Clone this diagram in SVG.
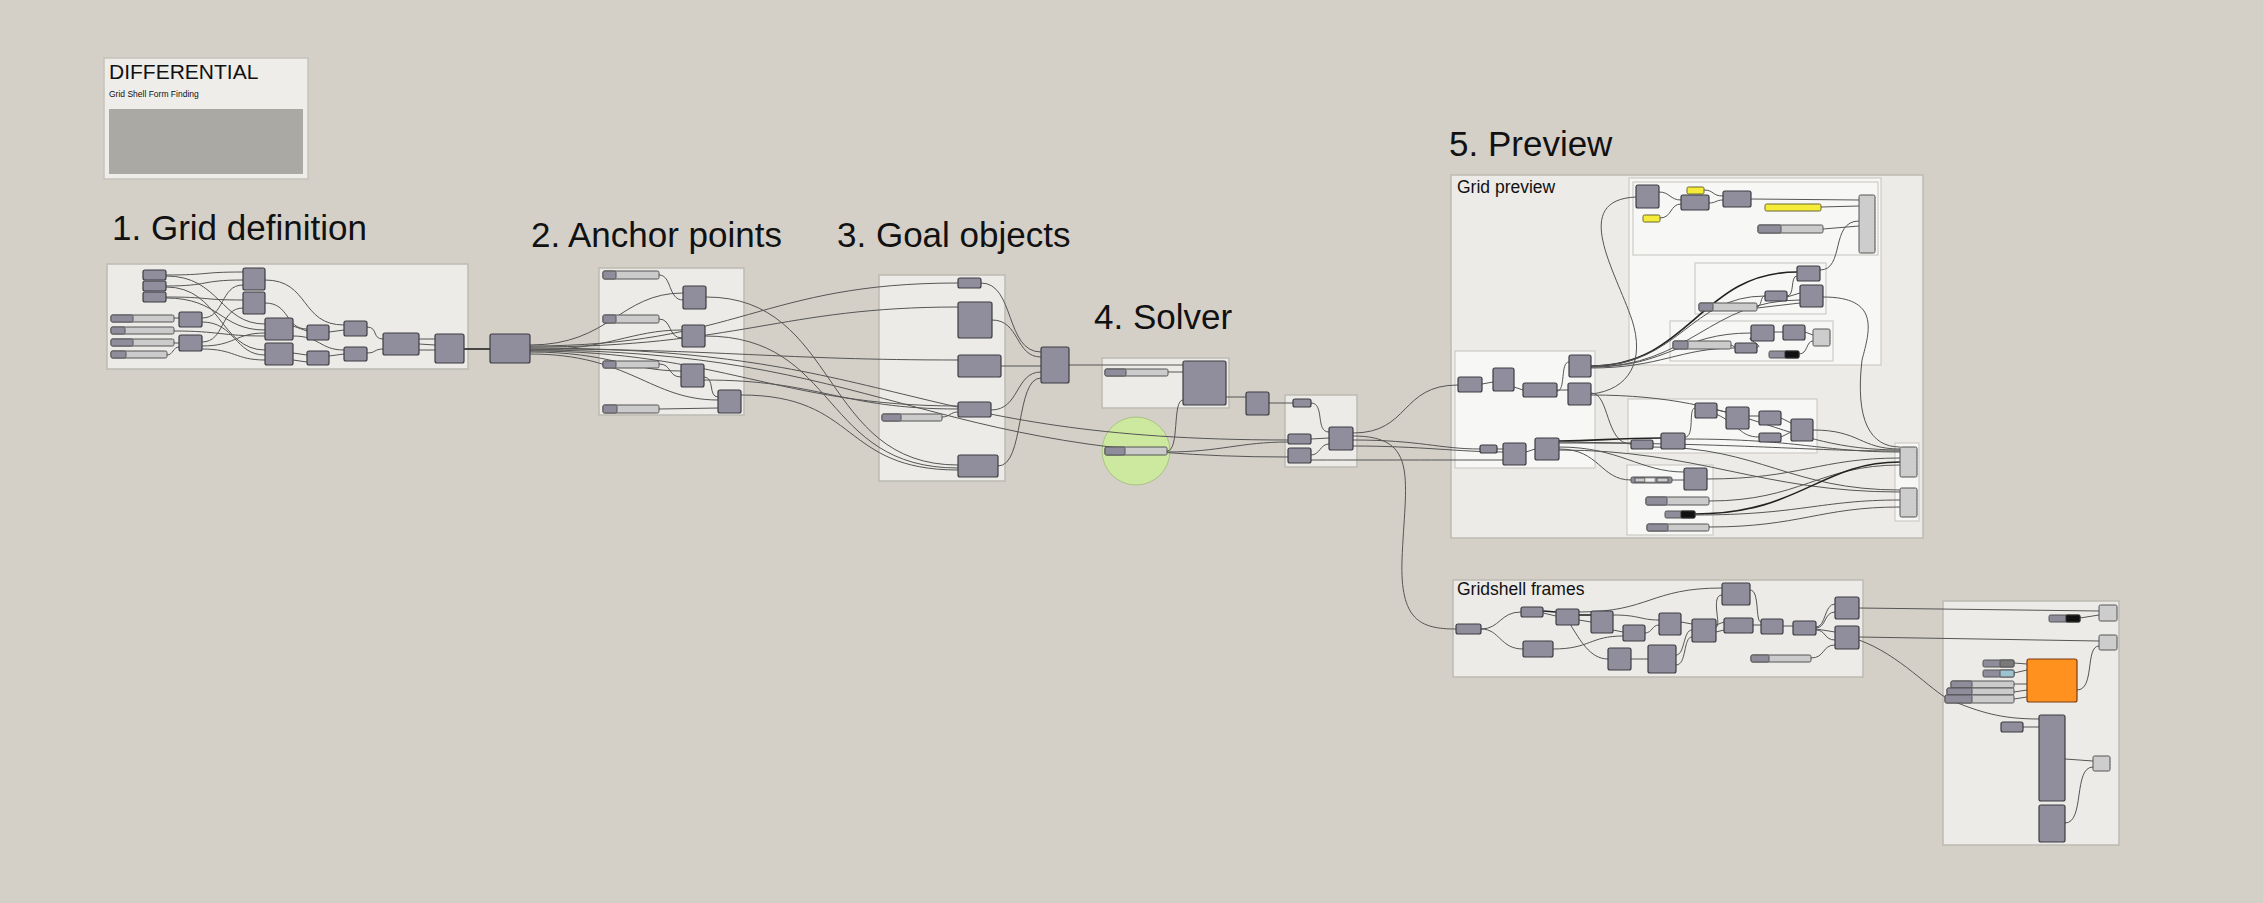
<svg xmlns="http://www.w3.org/2000/svg" width="2263" height="903" viewBox="0 0 2263 903">
<style>
.bg{fill:#d4d0c8}
.grp{fill:#ecebe7;stroke:#bdbab3;stroke-width:1.5}
.sub{fill:#f7f7f5;stroke:#cdcbc6;stroke-width:1.2}
.n{fill:#908e9c;stroke:#3c3c42;stroke-width:1.2}
.sl{fill:#cbcbcb;stroke:#555;stroke-width:1}
.sd{fill:#8f8d9b;stroke:#555;stroke-width:1}
.o{fill:#cdcdcd;stroke:#555;stroke-width:1}
.od{fill:none;stroke:#888;stroke-width:1;stroke-dasharray:1.5 1.5}
.y{fill:#f5ec3a;stroke:#6b6630;stroke-width:1}
.blk{fill:#111;stroke:#333;stroke-width:1}
.w{fill:none;stroke:#555;stroke-width:1}
.wd{fill:none;stroke:#222;stroke-width:1.6}
.h{font-family:'Liberation Sans',Arial,sans-serif;fill:#111}
</style>
<rect class="bg" x="0" y="0" width="2263" height="903"/>

<g id="title">
<rect x="104" y="58" width="204" height="121" fill="#eeede9" stroke="#c5c2bb" stroke-width="1.5"/>
<text class="h" x="109" y="79" font-size="21">DIFFERENTIAL</text>
<text class="h" x="109" y="97" font-size="8.5">Grid Shell Form Finding</text>
<rect x="109" y="109" width="194" height="65" fill="#aaa9a4"/>
</g>

<g id="headings">
<text class="h" x="112" y="240" font-size="35">1. Grid definition</text>
<text class="h" x="531" y="247" font-size="35">2. Anchor points</text>
<text class="h" x="837" y="247" font-size="35">3. Goal objects</text>
<text class="h" x="1094" y="329" font-size="35">4. Solver</text>
<text class="h" x="1449" y="156" font-size="35">5. Preview</text>
</g>

<g id="groups">
<rect class="grp" x="107" y="264" width="361" height="105"/>
<rect class="grp" x="599" y="268" width="145" height="147"/>
<rect class="grp" x="879" y="275" width="126" height="206"/>
<rect class="grp" x="1102" y="358" width="127" height="50"/>
<circle cx="1136" cy="451" r="34" fill="#cde99f" stroke="#a9c383" stroke-width="1"/>
<rect class="grp" x="1285" y="395" width="72" height="72"/>
<rect class="grp" x="1451" y="175" width="472" height="363"/>
<text class="h" x="1457" y="193" font-size="17.5">Grid preview</text>
<rect class="sub" x="1629" y="178" width="252" height="187"/>
<rect class="sub" x="1633" y="182" width="245" height="73"/>
<rect class="sub" x="1695" y="263" width="131" height="51"/>
<rect class="sub" x="1670" y="321" width="163" height="40"/>
<rect class="sub" x="1455" y="351" width="140" height="117"/>
<rect class="sub" x="1628" y="399" width="189" height="54"/>
<rect class="sub" x="1627" y="465" width="86" height="70"/>
<rect class="sub" x="1895" y="443" width="24" height="78"/>
<rect class="grp" x="1453" y="580" width="410" height="97"/>
<text class="h" x="1457" y="595" font-size="17.5">Gridshell frames</text>
<rect class="grp" x="1943" y="601" width="176" height="244"/>
</g>

<g id="connectors">
<!-- group 1 -->
<path class="w" d="M166,275 C210,275 200,272 243,272"/>
<path class="w" d="M166,276 C220,276 220,324 265,324"/>
<path class="w" d="M166,286 C210,286 200,280 243,280"/>
<path class="w" d="M166,287 C220,287 220,350 265,350"/>
<path class="w" d="M166,297 C210,297 200,300 243,300"/>
<path class="w" d="M166,298 C220,298 220,330 265,330"/>
<path class="w" d="M174,318 L179,318"/>
<path class="w" d="M174,331 C220,331 220,336 265,336"/>
<path class="w" d="M174,343 L179,343"/>
<path class="w" d="M167,355 C173,355 173,347 179,347"/>
<path class="w" d="M202,318 C225,318 220,285 243,285"/>
<path class="w" d="M202,322 C235,322 235,355 265,355"/>
<path class="w" d="M202,342 C225,342 220,308 243,308"/>
<path class="w" d="M202,346 C235,346 235,333 265,333"/>
<path class="w" d="M202,349 C235,349 235,360 265,360"/>
<path class="w" d="M265,280 C310,280 300,325 344,325"/>
<path class="w" d="M265,303 C290,303 285,329 307,329"/>
<path class="w" d="M293,326 L307,331"/>
<path class="w" d="M293,336 C320,336 320,350 344,350"/>
<path class="w" d="M293,353 L307,355"/>
<path class="w" d="M293,360 L307,362"/>
<path class="w" d="M329,332 L344,330"/>
<path class="w" d="M329,356 L344,354"/>
<path class="w" d="M367,327 C378,327 372,339 383,339"/>
<path class="w" d="M367,353 C376,353 374,349 383,349"/>
<path class="w" d="M419,339 L435,339"/>
<path class="w" d="M419,344 L435,345"/>
<path class="w" d="M419,350 L435,350"/>
<path class="wd" d="M464,349 L490,349"/>
<!-- fan out from N8 -->
<path class="w" d="M530,345 C610,345 620,293 683,293"/>
<path class="w" d="M530,350 C610,350 630,330 682,330"/>
<path class="w" d="M530,352 C610,352 630,371 681,371"/>
<path class="w" d="M530,354 C630,354 650,400 718,400"/>
<path class="w" d="M530,346 C740,346 760,283 958,283"/>
<path class="w" d="M530,347 C740,347 780,307 958,307"/>
<path class="w" d="M530,349 C720,349 780,360 958,360"/>
<path class="w" d="M530,351 C720,351 780,406 958,406"/>
<path class="w" d="M530,348 C900,348 900,440 1288,440"/>
<path class="w" d="M530,350 C880,350 920,457 1288,457"/>
<!-- group 2 -->
<path class="w" d="M659,275 C672,275 668,300 683,300"/>
<path class="w" d="M659,319 C672,319 668,338 682,338"/>
<path class="w" d="M659,364 C672,364 668,377 681,377"/>
<path class="w" d="M659,409 L718,408"/>
<path class="w" d="M704,377 C715,377 708,397 718,397"/>
<path class="w" d="M706,297 C840,297 820,465 958,465"/>
<path class="w" d="M705,336 C840,336 820,468 958,468"/>
<path class="w" d="M704,380 C820,380 840,409 958,409"/>
<path class="w" d="M741,395 C860,395 840,470 958,470"/>
<!-- group 3 -->
<path class="w" d="M942,417 C950,417 950,412 958,412"/>
<path class="w" d="M981,283 C1015,283 1005,352 1041,352"/>
<path class="w" d="M992,320 C1020,320 1015,357 1041,357"/>
<path class="w" d="M1001,366 L1041,366"/>
<path class="w" d="M991,410 C1020,410 1015,372 1041,372"/>
<path class="w" d="M998,466 C1025,466 1015,378 1041,378"/>
<!-- solver -->
<path class="w" d="M1069,365 L1183,365"/>
<path class="w" d="M1168,372 L1183,372"/>
<path class="w" d="M1167,451 C1180,451 1172,400 1183,400"/>
<path class="w" d="M1167,452 C1220,452 1240,442 1288,442"/>
<path class="w" d="M1226,397 L1246,397"/>
<path class="w" d="M1269,403 L1293,403"/>
<path class="w" d="M1311,403 C1325,403 1315,432 1329,432"/>
<path class="w" d="M1311,439 L1329,438"/>
<path class="w" d="M1311,455 C1320,455 1320,444 1329,444"/>
<!-- solver to preview -->
<path class="w" d="M1353,433 C1410,433 1400,385 1458,385"/>
<path class="w" d="M1353,436 C1420,436 1405,480 1402,560 C1400,620 1420,629 1456,629"/>
<path class="w" d="M1353,440 C1420,440 1440,449 1480,449"/>
<path class="w" d="M1353,446 C1420,446 1460,452 1503,452"/>
<path class="w" d="M1311,460 C1400,460 1450,460 1503,460"/>
<!-- preview B -->
<path class="w" d="M1482,384 L1493,382"/>
<path class="w" d="M1514,387 L1523,390"/>
<path class="w" d="M1557,390 L1568,390"/>
<path class="w" d="M1557,391 C1566,391 1560,362 1569,362"/>
<path class="w" d="M1497,449 L1503,449"/>
<path class="w" d="M1526,452 L1535,449"/>
<path class="wd" d="M1591,366 C1690,366 1700,272 1797,272"/>
<path class="w" d="M1591,366 C1680,366 1690,296 1765,296"/>
<path class="w" d="M1591,367 C1690,367 1710,300 1800,300"/>
<path class="w" d="M1591,367 C1670,367 1680,333 1751,333"/>
<path class="w" d="M1591,368 C1660,368 1680,348 1735,348"/>
<path class="w" d="M1591,394 C1630,390 1645,360 1632,320 C1615,270 1570,200 1636,197"/>
<path class="w" d="M1591,393 C1610,393 1605,444 1631,444"/>
<path class="w" d="M1591,395 C1750,395 1780,450 1900,450"/>
<path class="wd" d="M1559,441 C1600,441 1610,438 1661,438"/>
<path class="w" d="M1559,442 L1631,443"/>
<path class="w" d="M1559,443 C1750,443 1800,451 1900,451"/>
<path class="w" d="M1559,447 C1620,447 1640,472 1684,472"/>
<path class="w" d="M1559,449 C1600,449 1600,480 1631,480"/>
<path class="w" d="M1559,450 C1700,450 1760,492 1900,492"/>
<!-- preview C -->
<path class="w" d="M1653,447 C1760,447 1790,490 1900,490"/>
<path class="w" d="M1685,437 C1695,437 1688,408 1695,408"/>
<path class="w" d="M1685,439 C1800,439 1820,452 1900,452"/>
<path class="w" d="M1717,410 L1726,412"/>
<path class="w" d="M1716,414 C1740,425 1740,437 1759,437"/>
<path class="w" d="M1749,416 L1759,416"/>
<path class="w" d="M1781,418 L1791,423"/>
<path class="w" d="M1781,437 L1791,432"/>
<path class="w" d="M1813,430 C1860,430 1860,449 1900,449"/>
<!-- preview D -->
<path class="w" d="M1672,480 L1684,480"/>
<path class="w" d="M1707,479 C1800,479 1820,458 1900,458"/>
<path class="w" d="M1709,501 C1800,501 1820,465 1900,465"/>
<path class="wd" d="M1695,514 C1800,514 1820,462 1900,462"/>
<path class="w" d="M1695,515 C1800,515 1820,500 1900,500"/>
<path class="w" d="M1709,527 C1800,527 1820,507 1900,507"/>
<!-- preview A -->
<path class="w" d="M1659,192 C1670,192 1670,200 1681,200"/>
<path class="w" d="M1660,218 C1672,218 1670,204 1681,204"/>
<path class="w" d="M1704,190 C1714,190 1712,196 1723,196"/>
<path class="w" d="M1709,203 C1716,203 1716,200 1723,200"/>
<path class="w" d="M1751,199 L1859,200"/>
<path class="w" d="M1821,207 L1859,206"/>
<path class="w" d="M1823,229 L1859,226"/>
<path class="w" d="M1820,270 C1845,270 1830,221 1859,221"/>
<path class="w" d="M1787,296 C1795,296 1790,276 1797,276"/>
<path class="w" d="M1787,297 L1800,293"/>
<path class="w" d="M1757,307 C1762,307 1760,296 1765,296"/>
<path class="w" d="M1757,308 L1800,303"/>
<path class="w" d="M1823,297 C1880,297 1870,330 1862,360 C1855,420 1870,447 1900,447"/>
<path class="w" d="M1774,332 L1783,332"/>
<path class="w" d="M1805,332 L1813,335"/>
<path class="w" d="M1757,347 C1765,347 1745,338 1751,338"/>
<path class="w" d="M1731,345 L1735,347"/>
<path class="w" d="M1799,354 C1808,354 1806,341 1813,341"/>
<!-- gridshell frames -->
<path class="w" d="M1481,629 C1500,629 1500,612 1521,612"/>
<path class="w" d="M1481,629 C1500,629 1500,649 1523,649"/>
<path class="wd" d="M1543,611 L1556,612"/>
<path class="w" d="M1543,613 L1556,616"/>
<path class="w" d="M1579,612 C1650,612 1650,588 1722,588"/>
<path class="wd" d="M1579,615 L1591,615"/>
<path class="w" d="M1579,620 L1591,622"/>
<path class="w" d="M1570,624 C1580,640 1590,659 1608,659"/>
<path class="w" d="M1553,649 C1590,649 1590,636 1623,636"/>
<path class="w" d="M1613,615 C1640,615 1640,620 1659,620"/>
<path class="w" d="M1613,630 L1623,632"/>
<path class="w" d="M1645,633 C1652,633 1652,625 1659,625"/>
<path class="w" d="M1631,659 L1648,659"/>
<path class="w" d="M1676,655 C1685,655 1683,630 1692,630"/>
<path class="w" d="M1676,665 C1687,665 1683,637 1692,637"/>
<path class="w" d="M1681,622 L1692,624"/>
<path class="w" d="M1716,625 L1724,622"/>
<path class="w" d="M1716,632 L1724,630"/>
<path class="w" d="M1716,627 C1722,627 1710,595 1722,595"/>
<path class="w" d="M1750,590 C1760,590 1755,622 1761,622"/>
<path class="w" d="M1753,625 L1761,625"/>
<path class="w" d="M1783,626 L1793,626"/>
<path class="w" d="M1816,627 C1826,627 1824,604 1835,604"/>
<path class="w" d="M1816,628 C1826,628 1824,612 1835,612"/>
<path class="w" d="M1816,629 L1835,632"/>
<path class="w" d="M1816,630 C1826,630 1824,640 1835,640"/>
<path class="w" d="M1811,658 C1825,658 1822,645 1835,645"/>
<!-- to final group -->
<path class="w" d="M1859,608 L2099,611"/>
<path class="w" d="M1859,637 L2099,641"/>
<path class="w" d="M1859,640 C1900,655 1930,690 1950,700 C1980,712 2000,719 2039,719"/>
<path class="w" d="M2023,727 L2039,727"/>
<path class="w" d="M2080,618 L2099,615"/>
<path class="w" d="M2077,690 C2095,690 2085,646 2099,646"/>
<path class="w" d="M2014,663 L2027,664"/>
<path class="w" d="M2014,673 L2027,670"/>
<path class="w" d="M2014,684 L2027,684"/>
<path class="w" d="M2014,692 L2027,690"/>
<path class="w" d="M2014,699 L2027,697"/>
<path class="w" d="M2065,759 L2093,761"/>
<path class="w" d="M2065,823 C2085,823 2073,767 2093,767"/>
</g>

<g id="grid-definition">
<rect class="n" x="143" y="270" width="23" height="10" rx="2"/>
<rect class="n" x="143" y="281" width="23" height="10" rx="2"/>
<rect class="n" x="143" y="292" width="23" height="10" rx="2"/>
<rect class="sl" x="111" y="315" width="63" height="7" rx="1.5"/><rect class="sd" x="111" y="315" width="22" height="7" rx="1.5"/>
<rect class="sl" x="111" y="327" width="63" height="7" rx="1.5"/><rect class="sd" x="111" y="327" width="14" height="7" rx="1.5"/>
<rect class="sl" x="111" y="339" width="63" height="7" rx="1.5"/><rect class="sd" x="111" y="339" width="22" height="7" rx="1.5"/>
<rect class="sl" x="111" y="351" width="56" height="7" rx="1.5"/><rect class="sd" x="111" y="351" width="15" height="7" rx="1.5"/>
<rect class="n" x="179" y="312" width="23" height="15" rx="2"/>
<rect class="n" x="179" y="335" width="23" height="16" rx="2"/>
<rect class="n" x="243" y="268" width="22" height="22" rx="2"/>
<rect class="n" x="243" y="292" width="22" height="22" rx="2"/>
<rect class="n" x="265" y="318" width="28" height="22" rx="2"/>
<rect class="n" x="265" y="343" width="28" height="22" rx="2"/>
<rect class="n" x="307" y="325" width="22" height="15" rx="2"/>
<rect class="n" x="307" y="351" width="22" height="14" rx="2"/>
<rect class="n" x="344" y="321" width="23" height="15" rx="2"/>
<rect class="n" x="344" y="347" width="23" height="14" rx="2"/>
<rect class="n" x="383" y="333" width="36" height="22" rx="2"/>
<rect class="n" x="435" y="334" width="29" height="29" rx="2"/>
<rect class="n" x="490" y="334" width="40" height="29" rx="2"/>
</g>

<g id="anchor-points">
<rect class="sl" x="603" y="271" width="56" height="8" rx="1.5"/><rect class="sd" x="603" y="271" width="13" height="8" rx="1.5"/>
<rect class="sl" x="603" y="315" width="56" height="8" rx="1.5"/><rect class="sd" x="603" y="315" width="13" height="8" rx="1.5"/>
<rect class="sl" x="603" y="361" width="56" height="7" rx="1.5"/><rect class="sd" x="603" y="361" width="13" height="7" rx="1.5"/>
<rect class="sl" x="603" y="405" width="56" height="8" rx="1.5"/><rect class="sd" x="603" y="405" width="14" height="8" rx="1.5"/>
<rect class="n" x="683" y="286" width="23" height="23" rx="2"/>
<rect class="n" x="682" y="325" width="23" height="22" rx="2"/>
<rect class="n" x="681" y="364" width="23" height="23" rx="2"/>
<rect class="n" x="718" y="390" width="23" height="23" rx="2"/>
</g>

<g id="goal-objects">
<rect class="n" x="958" y="278" width="23" height="10" rx="2"/>
<rect class="n" x="958" y="302" width="34" height="36" rx="2"/>
<rect class="n" x="958" y="355" width="43" height="22" rx="2"/>
<rect class="n" x="958" y="402" width="33" height="15" rx="2"/>
<rect class="sl" x="882" y="414" width="60" height="7" rx="1.5"/><rect class="sd" x="882" y="414" width="19" height="7" rx="1.5"/>
<rect class="n" x="958" y="455" width="40" height="22" rx="2"/>
<rect class="n" x="1041" y="347" width="28" height="36" rx="2"/>
</g>

<g id="solver">
<rect class="sl" x="1105" y="369" width="63" height="7" rx="1.5"/><rect class="sd" x="1105" y="369" width="21" height="7" rx="1.5"/>
<rect class="n" x="1183" y="361" width="43" height="44" rx="2"/>
<rect class="n" x="1246" y="392" width="23" height="23" rx="2"/>
<rect class="sl" x="1105" y="447" width="62" height="8" rx="1.5"/><rect class="sd" x="1105" y="447" width="20" height="8" rx="1.5"/>
<rect class="n" x="1293" y="399" width="18" height="8" rx="2"/>
<rect class="n" x="1288" y="434" width="23" height="10" rx="2"/>
<rect class="n" x="1288" y="448" width="23" height="15" rx="2"/>
<rect class="n" x="1329" y="427" width="24" height="23" rx="2"/>
</g>

<g id="grid-preview">
<rect class="n" x="1636" y="185" width="23" height="23" rx="2"/>
<rect class="y" x="1687" y="187" width="17" height="7" rx="1.5"/>
<rect class="n" x="1681" y="195" width="28" height="15" rx="2"/>
<rect class="y" x="1643" y="215" width="17" height="7" rx="1.5"/>
<rect class="n" x="1723" y="191" width="28" height="16" rx="2"/>
<rect class="y" x="1765" y="204" width="56" height="7" rx="1.5"/>
<rect class="sl" x="1758" y="225" width="65" height="8" rx="1.5"/><rect class="sd" x="1758" y="225" width="23" height="8" rx="1.5"/>
<rect class="o" x="1859" y="195" width="16" height="58" rx="1.5"/><line class="od" x1="1875" y1="197" x2="1875" y2="251"/>
<rect class="n" x="1797" y="266" width="23" height="15" rx="2"/>
<rect class="n" x="1800" y="285" width="23" height="22" rx="2"/>
<rect class="n" x="1765" y="291" width="22" height="10" rx="2"/>
<rect class="sl" x="1699" y="303" width="58" height="8" rx="1.5"/><rect class="sd" x="1699" y="303" width="14" height="8" rx="1.5"/>
<rect class="n" x="1751" y="325" width="23" height="16" rx="2"/>
<rect class="n" x="1783" y="325" width="22" height="15" rx="2"/>
<rect class="o" x="1813" y="329" width="17" height="17" rx="1.5"/><line class="od" x1="1830" y1="331" x2="1830" y2="344"/>
<rect class="sl" x="1673" y="341" width="58" height="8" rx="1.5"/><rect class="sd" x="1673" y="341" width="15" height="8" rx="1.5"/>
<rect class="n" x="1735" y="343" width="22" height="10" rx="2"/>
<rect class="sd" x="1769" y="351" width="30" height="7" rx="1.5"/><rect class="blk" x="1785" y="351" width="14" height="7" rx="1"/>
<rect class="n" x="1458" y="377" width="24" height="15" rx="2"/>
<rect class="n" x="1493" y="368" width="21" height="23" rx="2"/>
<rect class="n" x="1523" y="383" width="34" height="14" rx="2"/>
<rect class="n" x="1569" y="355" width="22" height="22" rx="2"/>
<rect class="n" x="1568" y="383" width="23" height="22" rx="2"/>
<rect class="n" x="1480" y="445" width="17" height="8" rx="2"/>
<rect class="n" x="1503" y="443" width="23" height="22" rx="2"/>
<rect class="n" x="1535" y="438" width="24" height="22" rx="2"/>
<rect class="n" x="1695" y="403" width="22" height="15" rx="2"/>
<rect class="n" x="1726" y="407" width="23" height="22" rx="2"/>
<rect class="n" x="1759" y="411" width="22" height="14" rx="2"/>
<rect class="n" x="1791" y="419" width="22" height="22" rx="2"/>
<rect class="n" x="1759" y="433" width="22" height="9" rx="2"/>
<rect class="n" x="1661" y="433" width="24" height="16" rx="2"/>
<rect class="n" x="1631" y="440" width="22" height="9" rx="2"/>
<rect class="sd" x="1631" y="477" width="41" height="6" rx="1.5"/><rect class="sl" x="1635" y="478" width="10" height="4"/><rect fill="#eee" stroke="#777" stroke-width="0.6" x="1645" y="478" width="10" height="4"/><rect class="sl" x="1657" y="478" width="11" height="4"/>
<rect class="n" x="1684" y="468" width="23" height="22" rx="2"/>
<rect class="sl" x="1646" y="497" width="63" height="8" rx="1.5"/><rect class="sd" x="1646" y="497" width="21" height="8" rx="1.5"/>
<rect class="sd" x="1665" y="511" width="30" height="7" rx="1.5"/><rect class="blk" x="1681" y="511" width="14" height="7" rx="1"/>
<rect class="sl" x="1647" y="524" width="62" height="7" rx="1.5"/><rect class="sd" x="1647" y="524" width="21" height="7" rx="1.5"/>
<rect class="o" x="1900" y="447" width="17" height="30" rx="1.5"/><line class="od" x1="1917" y1="449" x2="1917" y2="475"/>
<rect class="o" x="1900" y="488" width="17" height="29" rx="1.5"/><line class="od" x1="1917" y1="490" x2="1917" y2="515"/>
</g>

<g id="gridshell-frames">
<rect class="n" x="1456" y="624" width="25" height="10" rx="2"/>
<rect class="n" x="1521" y="607" width="22" height="10" rx="2"/>
<rect class="n" x="1556" y="609" width="23" height="16" rx="2"/>
<rect class="n" x="1523" y="641" width="30" height="16" rx="2"/>
<rect class="n" x="1591" y="611" width="22" height="22" rx="2"/>
<rect class="n" x="1623" y="625" width="22" height="16" rx="2"/>
<rect class="n" x="1608" y="648" width="23" height="22" rx="2"/>
<rect class="n" x="1648" y="645" width="28" height="28" rx="2"/>
<rect class="n" x="1659" y="613" width="22" height="22" rx="2"/>
<rect class="n" x="1692" y="619" width="24" height="23" rx="2"/>
<rect class="n" x="1722" y="583" width="28" height="22" rx="2"/>
<rect class="n" x="1724" y="618" width="29" height="15" rx="2"/>
<rect class="n" x="1761" y="619" width="22" height="15" rx="2"/>
<rect class="n" x="1793" y="621" width="23" height="14" rx="2"/>
<rect class="n" x="1835" y="597" width="24" height="22" rx="2"/>
<rect class="n" x="1835" y="626" width="24" height="23" rx="2"/>
<rect class="sl" x="1751" y="655" width="60" height="7" rx="1.5"/><rect class="sd" x="1751" y="655" width="18" height="7" rx="1.5"/>
</g>

<g id="output">
<rect class="o" x="2099" y="605" width="18" height="16" rx="1.5"/><line class="od" x1="2117" y1="607" x2="2117" y2="619"/>
<rect class="sd" x="2049" y="615" width="31" height="7" rx="1.5"/><rect class="blk" x="2066" y="615" width="14" height="7" rx="1"/>
<rect class="o" x="2099" y="635" width="18" height="15" rx="1.5"/><line class="od" x1="2117" y1="637" x2="2117" y2="648"/>
<rect x="2027" y="659" width="50" height="43" rx="2" fill="#ff911e" stroke="#7a3d14" stroke-width="1.2"/>
<rect class="sd" x="1983" y="660" width="31" height="7" rx="1.5"/><rect fill="#7a7a7a" stroke="#555" stroke-width="1" x="2000" y="660" width="14" height="7" rx="1"/>
<rect class="sd" x="1983" y="670" width="31" height="7" rx="1.5"/><rect fill="#9dc3d0" stroke="#555" stroke-width="1" x="2000" y="670" width="14" height="7" rx="1"/>
<rect class="sl" x="1951" y="681" width="63" height="7" rx="1.5"/><rect class="sd" x="1951" y="681" width="21" height="7" rx="1.5"/>
<rect class="sl" x="1947" y="688" width="67" height="7" rx="1.5"/><rect class="sd" x="1947" y="688" width="25" height="7" rx="1.5"/>
<rect class="sl" x="1945" y="695" width="69" height="8" rx="1.5"/><rect class="sd" x="1945" y="695" width="27" height="8" rx="1.5"/>
<rect class="n" x="2001" y="722" width="22" height="10" rx="2"/>
<rect class="n" x="2039" y="715" width="26" height="86" rx="2"/>
<rect class="n" x="2039" y="805" width="26" height="37" rx="2"/>
<rect class="o" x="2093" y="756" width="17" height="15" rx="1.5"/><line class="od" x1="2110" y1="758" x2="2110" y2="769"/>
</g>
</svg>
